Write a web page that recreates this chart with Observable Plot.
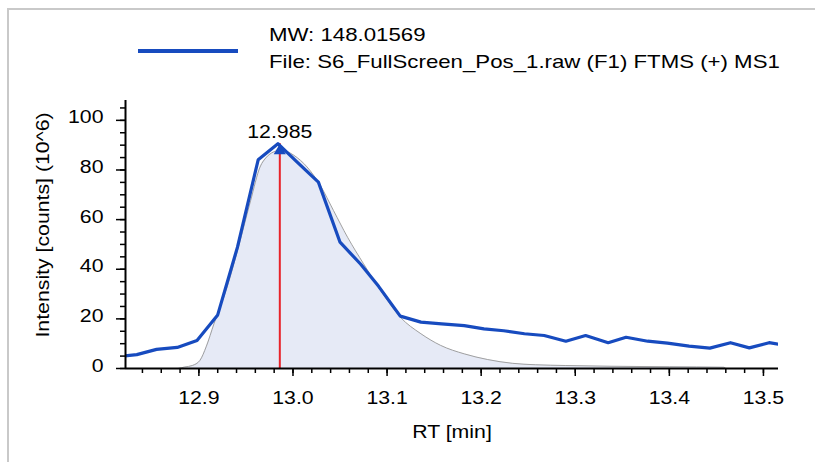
<!DOCTYPE html>
<html><head><meta charset="utf-8">
<script src="https://cdn.jsdelivr.net/npm/d3@7"></script>
<script src="https://cdn.jsdelivr.net/npm/@observablehq/plot@0.6"></script>
<style>
html,body{margin:0;padding:0;background:#fff;}
#wrap{position:relative;width:815px;height:462px;overflow:hidden;font-family:"Liberation Sans",Arial,sans-serif;}
#frame{position:absolute;left:7px;top:8px;right:-5px;bottom:-5px;border-top:2px solid #c9c9c9;border-left:2px solid #c9c9c9;z-index:3;pointer-events:none;}
#legend{position:relative;height:90px;}
#legend .swatch{position:absolute;left:138px;top:49px;width:100px;height:4px;background:#174bbf;}
#legend .txt{position:absolute;left:269px;top:21px;font-size:19px;line-height:27px;color:#000;transform:scaleX(1.17);transform-origin:0 0;white-space:nowrap;}
#chart svg{display:block;}
</style></head>
<body>
<div id="wrap">
  <div id="frame"></div>
  <div id="legend"><div class="swatch"></div><div class="txt"><div id="l1"></div><div id="l2"></div></div></div>
  <div id="chart"></div>
</div>
<script>
// ---- data ----
const legendLines = ["MW: 148.01569", "File: S6_FullScreen_Pos_1.raw (F1) FTMS (+) MS1"];

// MS1 extracted trace (blue)
const traceRT = [12.820, 12.834, 12.855, 12.877, 12.898, 12.920, 12.941, 12.963, 12.984, 13.005, 13.027, 13.050, 13.072, 13.091, 13.114, 13.136, 13.158, 13.182, 13.203, 13.224, 13.246, 13.267, 13.290, 13.311, 13.335, 13.354, 13.377, 13.398, 13.421, 13.443, 13.465, 13.485, 13.506, 13.517];
const traceIntensity = [5.0, 5.6, 7.7, 8.5, 11.3, 21.6, 48.9, 84.1, 90.6, 83.0, 75.1, 50.9, 42.0, 33.1, 21.1, 18.7, 18.0, 17.3, 16.0, 15.2, 14.0, 13.3, 11.0, 13.3, 10.4, 12.6, 11.0, 10.2, 9.0, 8.2, 10.4, 8.3, 10.4, 9.7];

// fitted / detected peak (grey outline, filled)
const fitRT = [12.878, 12.885, 12.893, 12.901, 12.908, 12.916, 12.930, 12.942, 12.955, 12.965, 12.972, 12.979, 12.988, 13.001, 13.015, 13.029, 13.043, 13.058, 13.075, 13.093, 13.114, 13.136, 13.157, 13.182, 13.207, 13.233, 13.258, 13.290, 13.338, 13.400, 13.458, 13.460];
const fitIntensity = [0, 0.6, 1.2, 3.2, 9.0, 18.0, 32.8, 48.9, 67.7, 81.2, 85.2, 87.2, 88.0, 85.9, 81.2, 73.8, 63.7, 52.9, 42.2, 31.5, 20.7, 14.0, 9.3, 5.9, 3.6, 2.1, 1.5, 1.2, 0.9, 0.7, 0.5, 0];

// apex
const peakRT = [12.986];
const peakIntensity = [90.6];
const peakLabel = ["12.985"];

// axes
const xDomain = [12.822, 13.516];
const yDomain = [0, 108];
const xTicks = [12.9, 13.0, 13.1, 13.2, 13.3, 13.4, 13.5];
const yTicks = [0, 20, 40, 60, 80, 100];
const xTitle = "RT [min]";
const yTitle = "Intensity [counts] (10^6)";

// ---- build ----
document.getElementById("l1").textContent = legendLines[0];
document.getElementById("l2").textContent = legendLines[1];

const xMinor = d3.range(0, 40).map(i => +(12.82 + i * 0.02).toFixed(2)).filter(v => v >= xDomain[0] && v <= xDomain[1]);
const yMinor = d3.range(0, 25).map(i => i * 5).filter(v => v <= yDomain[1]);

const trace = traceRT.map((x, i) => ({x, y: traceIntensity[i]}));
const fit = fitRT.map((x, i) => ({x, y: fitIntensity[i]}));
const peak = peakRT.map((x, i) => ({x, y: peakIntensity[i], label: peakLabel[i]}));

const BLUE = "#174bbf";
const FS = 19;
const chart = Plot.plot({
  width: 815, height: 372,
  marginLeft: 125, marginRight: 37, marginTop: 10, marginBottom: 94,
  style: {fontFamily: '"Liberation Sans", Arial, sans-serif', fontSize: FS + "px", color: "#000", background: "transparent", overflow: "visible"},
  x: {domain: xDomain},
  y: {domain: yDomain},
  marks: [
    Plot.areaY(fit, {x: "x", y: "y", fill: "#e6eaf6", curve: "monotone-x"}),
    Plot.lineY(fit, {x: "x", y: "y", stroke: "#a0a0a0", strokeWidth: 1, curve: "monotone-x"}),
    Plot.ruleX(peak, {x: "x", y1: 0, y2: "y", stroke: "#e8232a", strokeWidth: 2}),
    Plot.lineY(trace, {x: "x", y: "y", stroke: BLUE, strokeWidth: 3.2, clip: true}),
    Plot.dot(peak, {x: "x", y: "y", symbol: "triangle", r: 4.5, fill: BLUE, stroke: null, dy: 7}),
    Plot.text(peak, {x: "x", y: "y", text: "label", fontSize: FS, dy: -12, fill: "#000"}),
    Plot.ruleY([yDomain[0]], {stroke: "#000", strokeWidth: 2}),
    Plot.ruleX([xDomain[0]], {stroke: "#000", strokeWidth: 2}),
    Plot.axisX({ticks: xMinor, tickSize: 5, tickFormat: () => "", strokeWidth: 1.5, label: null}),
    Plot.axisX({ticks: xTicks, tickSize: 8, tickFormat: () => "", strokeWidth: 1.5, label: null}),
    Plot.axisX({ticks: xTicks, tickSize: 0, tickPadding: 22, tickFormat: d3.format(".1f"), fontSize: FS, fill: "#000", label: null}),
    Plot.axisY({ticks: yMinor, tickSize: 5, tickFormat: () => "", strokeWidth: 1.5, label: null}),
    Plot.axisY({ticks: yTicks, tickSize: 9, tickFormat: () => "", strokeWidth: 1.5, label: null}),
    Plot.axisY({ticks: yTicks, tickSize: 0, tickPadding: 22, dy: -3, fontSize: FS, fill: "#000", label: null}),
    Plot.text([yTitle], {frameAnchor: "left", textAnchor: "middle", lineAnchor: "middle", rotate: -90, dx: -83, dy: -9.5, fontSize: FS, fill: "#000"}),
    Plot.text([xTitle], {frameAnchor: "bottom", textAnchor: "middle", lineAnchor: "middle", dy: 63, fontSize: FS, fill: "#000"})
  ]
});

// widen glyphs along their baseline to match the reference's wide sans font
chart.querySelectorAll("text").forEach(t => {
  const x = +(t.getAttribute("x") || 0);
  t.removeAttribute("x");
  const tr = t.getAttribute("transform") || "";
  t.setAttribute("transform", `${tr} translate(${x},0) scale(1.12,1)`);
});
document.getElementById("chart").appendChild(chart);
</script>
</body></html>
